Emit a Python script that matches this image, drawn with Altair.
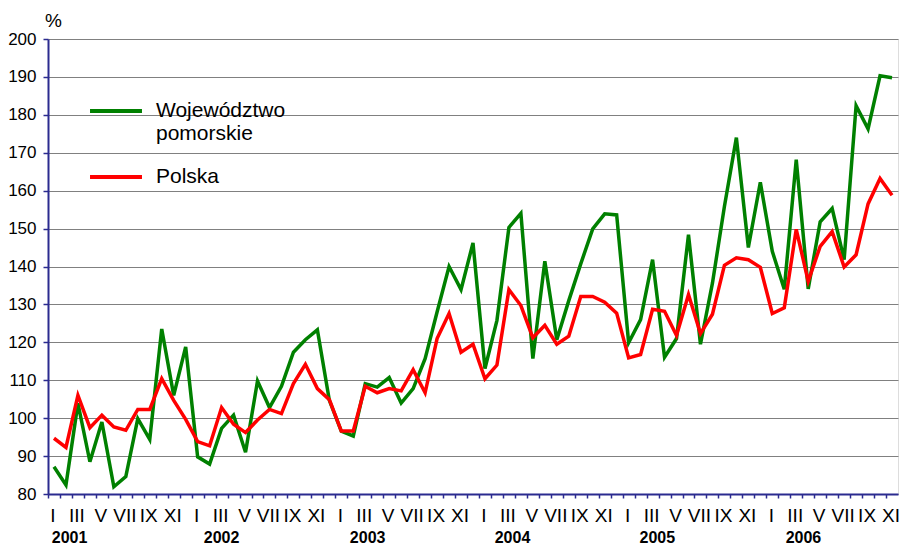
import json
import altair as alt
import pandas as pd

# ---- data (monthly, Jan 2001 - Nov 2006), index 0..70 ----
green_vals = [87.2, 82.4, 103.9, 88.5, 99.0, 81.9, 84.6, 99.9, 94.4, 123.5, 106.0, 118.8,
              89.8, 87.9, 97.3, 100.8, 91.0, 109.8, 102.8, 108.4, 117.4, 120.7, 123.3, 104.7,
              96.6, 95.3, 109.1, 108.2, 110.7, 104.0, 107.8, 115.7, 128.0, 140.0, 133.9, 146.2,
              113.1, 125.8, 150.3, 154.0, 115.7, 141.4, 120.7, 131.0, 140.7, 149.9, 153.9, 153.6,
              119.9, 126.0, 141.8, 116.1, 121.0, 148.4, 119.5, 135.6, 155.8, 174.0, 145.0, 162.2,
              144.0, 134.0, 168.2, 134.1, 151.8, 155.3, 141.8, 182.4, 176.3, 190.3, 189.8]
red_vals = [94.7, 92.3, 106.0, 97.5, 100.8, 97.7, 96.8, 102.3, 102.3, 110.4, 104.7, 99.7,
            93.8, 92.7, 102.8, 98.4, 96.2, 99.5, 102.3, 101.2, 109.1, 114.2, 107.8, 104.9,
            96.6, 96.6, 108.4, 106.7, 107.8, 107.2, 112.8, 106.7, 121.0, 127.6, 117.4, 119.5,
            110.4, 114.0, 133.9, 129.7, 121.2, 124.5, 119.5, 121.6, 132.1, 132.1, 130.6, 127.7,
            115.9, 116.8, 128.7, 128.2, 121.8, 132.6, 122.3, 127.4, 140.3, 142.3, 141.8, 139.8,
            127.6, 129.1, 149.8, 136.1, 145.3, 149.2, 139.9, 143.1, 156.5, 163.2, 158.8]
series_names = ["Województwo pomorskie", "Polska"]
series_colors = ["#008000", "#ff0000"]
roman = ["I", "II", "III", "IV", "V", "VI", "VII", "VIII", "IX", "X", "XI", "XII"]
years = ["2001", "2002", "2003", "2004", "2005", "2006"]
year_pos = [1.3, 14.0, 26.2, 38.3, 50.4, 62.6]
y_ticks = list(range(80, 201, 10))

n = len(green_vals)
rows = []
for i, v in enumerate(green_vals):
    rows.append({"idx": i, "val": v, "series": series_names[0], "ord": 0})
for i, v in enumerate(red_vals):
    rows.append({"idx": i, "val": v, "series": series_names[1], "ord": 1})
df = pd.DataFrame(rows)
ydf = pd.DataFrame({"year": years, "pos": year_pos})

W, H = 850, 455
step = W / n
FONT = "Liberation Sans, Arial, sans-serif"
NAVY = "#2b2b8f"

xscale = alt.Scale(domain=[-0.5, n - 0.5], nice=False, zero=False)
label_expr = f"datum.value % 2 == 0 ? {json.dumps(roman)}[datum.value % 12] : ''"
xaxis = alt.Axis(values=list(range(n)), labelExpr=label_expr, tickOffset=-step / 2,
                 labelOffset=step / 2 - 1.5,
                 tickSize=4, tickWidth=1.5, tickColor=NAVY, domainColor=NAVY,
                 domainWidth=2, grid=False, title=None, labelFont=FONT,
                 labelFontSize=19, labelColor="black", labelPadding=8,
                 labelOverlap=False, labelFlush=False, labelBound=False)

lines = alt.Chart(df).mark_line(strokeWidth=3.5, strokeJoin="miter").encode(
    x=alt.X("idx:Q", scale=xscale, axis=xaxis),
    y=alt.Y("val:Q", scale=alt.Scale(domain=[80, 200], nice=False, zero=False),
            axis=alt.Axis(values=y_ticks, tickSize=5, tickWidth=1.5, tickColor=NAVY,
                          domainColor=NAVY, domainWidth=2, grid=True, gridColor="#808080",
                          gridWidth=1.2, labelFont=FONT, labelFontSize=17,
                          labelColor="black", labelPadding=7, title="%", titleAngle=0,
                          titleFont=FONT, titleFontSize=19,
                          titleFontWeight="normal", titleColor="black",
                          titleAlign="center", titleBaseline="middle", titleX=5,
                          titleY=-19)),
    color=alt.Color("series:N", scale=alt.Scale(domain=series_names, range=series_colors),
                    legend=alt.Legend(orient="none", legendX=40, legendY=44, title=None,
                                      symbolType="stroke", symbolSize=2700,
                                      symbolStrokeWidth=4, labelFont=FONT,
                                      labelFontSize=21, labelColor="black", labelOffset=12,
                                      rowPadding=5, labelLimit=0, padding=0,
                                      labelExpr="datum.label == 'Województwo pomorskie' ? ['Województwo', 'pomorskie'] : datum.label")),
    order=alt.Order("ord:Q"),
    detail="series:N",
)

year_text = alt.Chart(ydf).mark_text(font=FONT, fontSize=16, fontWeight="bold",
                                     color="black", baseline="middle", align="center").encode(
    x=alt.X("pos:Q", scale=xscale, axis=xaxis),
    y=alt.value(H + 44),
    text="year:N",
)

chart = alt.layer(lines, year_text).properties(
    width=W, height=H,
    autosize=alt.AutoSizeParams(type="none"),
    padding={"left": 40, "top": 31, "right": 2, "bottom": 54},
).configure_view(stroke="#3a3a9a", strokeWidth=1.5).configure(background="white")

chart.save("out.html", embed_options={"renderer": "svg", "actions": False})
